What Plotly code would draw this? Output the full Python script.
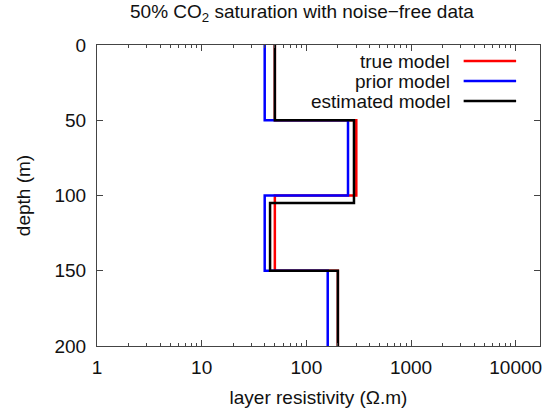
import numpy as np
import plotly.graph_objects as go

# Layer models: top depths (m) and resistivities (Ohm.m)
max_depth = 200
true_tops = [0, 50, 100, 150]
true_res = [50, 300, 50, 200]
prior_tops = [0, 50, 100, 150]
prior_res = [40, 250, 40, 160]
est_tops = [0, 50, 105, 150]
est_res = [50, 285, 45, 200]

x_ticks = [1, 10, 100, 1000, 10000]
y_ticks = [0, 50, 100, 150, 200]

series = [
    ("true model", true_tops, true_res, "#ff0000"),
    ("prior model", prior_tops, prior_res, "#0000ff"),
    ("estimated model", est_tops, est_res, "#000000"),
]


def step_profile(tops, res):
    xs, ys = [], []
    bottoms = list(tops[1:]) + [max_depth]
    for t, b, r in zip(tops, bottoms, res):
        xs += [r, r]
        ys += [t, b]
    return xs, ys


minor_vals = [m * d for d in x_ticks for m in range(2, 10) if m * d < 17000]

FS = 19
font = "Liberation Sans, Arial, sans-serif"
TXT = "#111"
fig = go.Figure()
for name, tops, res, col in series:
    xs, ys = step_profile(tops, res)
    fig.add_trace(go.Scatter(x=xs, y=ys, mode="lines", name=name,
                             line=dict(color=col, width=2.5),
                             showlegend=False))

# gnuplot-style legend (text left, line sample right)
leg_y = [61, 81, 101]
for (name, _, _, col), yy in zip(series, leg_y):
    yp = 1 - (yy - 45) / (345.7 - 45)
    fig.add_annotation(text=name, xref="paper", yref="paper",
                       x=(453 - 96.7) / 445, y=yp,
                       xanchor="right", yanchor="middle", showarrow=False,
                       font=dict(size=FS, color=TXT, family=font))
    fig.add_shape(type="line", xref="paper", yref="paper",
                  x0=(465 - 96.7) / 445, x1=(517.7 - 96.7) / 445,
                  y0=yp, y1=yp, line=dict(color=col, width=2.5))

fig.add_annotation(text="50% CO<sub>2</sub> saturation with noise\u2212free data",
                   xref="paper", yref="paper",
                   x=(303 - 96.7) / 445, y=1 + (45 - 13) / 300.7,
                   xanchor="center", yanchor="middle", showarrow=False,
                   font=dict(size=FS, color=TXT, family=font))

fig.update_xaxes(type="log", range=[0, 4.232],
                 tickvals=x_ticks,
                 ticktext=[str(v) for v in x_ticks],
                 ticks="inside", ticklen=6, tickcolor="#444",
                 minor=dict(tickvals=minor_vals, ticks="inside", ticklen=3,
                            tickcolor="#444", showgrid=False),
                 showline=True, linecolor="#444", linewidth=1,
                 mirror="allticks", showgrid=False, zeroline=False,
                 ticklabelstandoff=4,
                 tickfont=dict(size=FS, color=TXT, family=font),
                 title=dict(text="layer resistivity (\u03a9.m)",
                            font=dict(size=FS, color=TXT, family=font),
                            standoff=13))
fig.update_yaxes(range=[200, 0], tickvals=y_ticks,
                 ticks="inside", ticklen=6, tickcolor="#444",
                 showline=True, linecolor="#444", linewidth=1,
                 mirror="allticks", showgrid=False, zeroline=False,
                 ticklabelstandoff=6,
                 tickfont=dict(size=FS, color=TXT, family=font),
                 title=dict(text="depth (m)",
                            font=dict(size=FS, color=TXT, family=font),
                            standoff=18))

fig.update_layout(width=549, height=412,
                  margin=dict(l=97, r=7, t=45, b=66),
                  plot_bgcolor="white", paper_bgcolor="white")

fig.write_html("out.html")
